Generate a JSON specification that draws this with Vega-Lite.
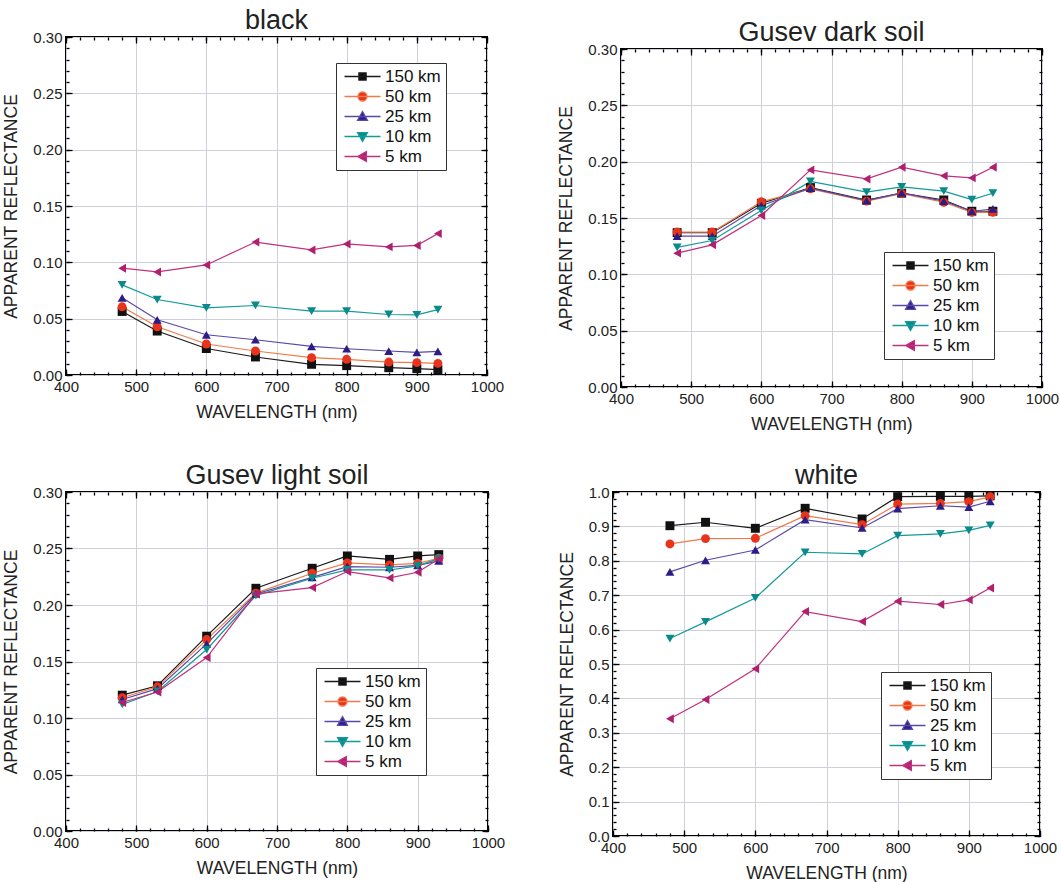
{
"$schema":"https://vega.github.io/schema/vega-lite/v6.json",
"padding":{"left":1,"top":5,"right":2,"bottom":0},
"config":{"font":"Liberation Sans","view":{"stroke":"#000","strokeWidth":2},
"axis":{"labelFont":"Liberation Sans","labelFontSize":15,"labelColor":"#222","titleFont":"Liberation Sans","titleFontSize":17.5,"titleFontWeight":"normal","titleColor":"#222","domain":false,"tickColor":"#000","tickWidth":1.3,"gridColor":"#cfd0da","gridWidth":1},
"title":{"font":"Liberation Sans","fontSize":27,"fontWeight":"normal","color":"#222","anchor":"middle","offset":-5},
"legend":{"title":null,"orient":"none","symbolSize":81,"symbolStrokeWidth":1.3,"symbolOpacity":1,"symbolOffset":13,"labelOffset":14,"labelFontSize":17,"labelFont":"Liberation Sans","labelColor":"#111","strokeColor":"#333","fillColor":"#fff","padding":5,"rowPadding":2}},
"data":{"values":[
{"p":"black","s":"150 km","w":480,"r":0.0564},{"p":"black","s":"150 km","w":530,"r":0.039},{"p":"black","s":"150 km","w":600,"r":0.0235},{"p":"black","s":"150 km","w":670,"r":0.016},{"p":"black","s":"150 km","w":750,"r":0.0095},{"p":"black","s":"150 km","w":800,"r":0.0083},{"p":"black","s":"150 km","w":860,"r":0.0065},{"p":"black","s":"150 km","w":900,"r":0.0056},{"p":"black","s":"150 km","w":930,"r":0.0047},
{"p":"black","s":"50 km","w":480,"r":0.0605},{"p":"black","s":"50 km","w":530,"r":0.0428},{"p":"black","s":"50 km","w":600,"r":0.0275},{"p":"black","s":"50 km","w":670,"r":0.0213},{"p":"black","s":"50 km","w":750,"r":0.0154},{"p":"black","s":"50 km","w":800,"r":0.0139},{"p":"black","s":"50 km","w":860,"r":0.0115},{"p":"black","s":"50 km","w":900,"r":0.011},{"p":"black","s":"50 km","w":930,"r":0.0103},
{"p":"black","s":"25 km","w":480,"r":0.0685},{"p":"black","s":"25 km","w":530,"r":0.049},{"p":"black","s":"25 km","w":600,"r":0.0357},{"p":"black","s":"25 km","w":670,"r":0.0313},{"p":"black","s":"25 km","w":750,"r":0.0254},{"p":"black","s":"25 km","w":800,"r":0.0233},{"p":"black","s":"25 km","w":860,"r":0.0213},{"p":"black","s":"25 km","w":900,"r":0.020},{"p":"black","s":"25 km","w":930,"r":0.021},
{"p":"black","s":"10 km","w":480,"r":0.080},{"p":"black","s":"10 km","w":530,"r":0.067},{"p":"black","s":"10 km","w":600,"r":0.0596},{"p":"black","s":"10 km","w":670,"r":0.0617},{"p":"black","s":"10 km","w":750,"r":0.0567},{"p":"black","s":"10 km","w":800,"r":0.0567},{"p":"black","s":"10 km","w":860,"r":0.0537},{"p":"black","s":"10 km","w":900,"r":0.0534},{"p":"black","s":"10 km","w":930,"r":0.058},
{"p":"black","s":"5 km","w":480,"r":0.0948},{"p":"black","s":"5 km","w":530,"r":0.0915},{"p":"black","s":"5 km","w":600,"r":0.0977},{"p":"black","s":"5 km","w":670,"r":0.118},{"p":"black","s":"5 km","w":750,"r":0.111},{"p":"black","s":"5 km","w":800,"r":0.1163},{"p":"black","s":"5 km","w":860,"r":0.1137},{"p":"black","s":"5 km","w":900,"r":0.115},{"p":"black","s":"5 km","w":930,"r":0.1255},
{"p":"dark","s":"150 km","w":480,"r":0.137},{"p":"dark","s":"150 km","w":530,"r":0.137},{"p":"dark","s":"150 km","w":600,"r":0.163},{"p":"dark","s":"150 km","w":670,"r":0.177},{"p":"dark","s":"150 km","w":750,"r":0.166},{"p":"dark","s":"150 km","w":800,"r":0.172},{"p":"dark","s":"150 km","w":860,"r":0.166},{"p":"dark","s":"150 km","w":900,"r":0.156},{"p":"dark","s":"150 km","w":930,"r":0.156},
{"p":"dark","s":"50 km","w":480,"r":0.1375},{"p":"dark","s":"50 km","w":530,"r":0.1375},{"p":"dark","s":"50 km","w":600,"r":0.1644},{"p":"dark","s":"50 km","w":670,"r":0.1759},{"p":"dark","s":"50 km","w":750,"r":0.165},{"p":"dark","s":"50 km","w":800,"r":0.1717},{"p":"dark","s":"50 km","w":860,"r":0.164},{"p":"dark","s":"50 km","w":900,"r":0.155},{"p":"dark","s":"50 km","w":930,"r":0.155},
{"p":"dark","s":"25 km","w":480,"r":0.1339},{"p":"dark","s":"25 km","w":530,"r":0.1339},{"p":"dark","s":"25 km","w":600,"r":0.161},{"p":"dark","s":"25 km","w":670,"r":0.1765},{"p":"dark","s":"25 km","w":750,"r":0.1655},{"p":"dark","s":"25 km","w":800,"r":0.1723},{"p":"dark","s":"25 km","w":860,"r":0.165},{"p":"dark","s":"25 km","w":900,"r":0.156},{"p":"dark","s":"25 km","w":930,"r":0.158},
{"p":"dark","s":"10 km","w":480,"r":0.124},{"p":"dark","s":"10 km","w":530,"r":0.130},{"p":"dark","s":"10 km","w":600,"r":0.1567},{"p":"dark","s":"10 km","w":670,"r":0.1824},{"p":"dark","s":"10 km","w":750,"r":0.173},{"p":"dark","s":"10 km","w":800,"r":0.1777},{"p":"dark","s":"10 km","w":860,"r":0.1738},{"p":"dark","s":"10 km","w":900,"r":0.1664},{"p":"dark","s":"10 km","w":930,"r":0.172},
{"p":"dark","s":"5 km","w":480,"r":0.1188},{"p":"dark","s":"5 km","w":530,"r":0.1262},{"p":"dark","s":"5 km","w":600,"r":0.1522},{"p":"dark","s":"5 km","w":670,"r":0.1927},{"p":"dark","s":"5 km","w":750,"r":0.1847},{"p":"dark","s":"5 km","w":800,"r":0.1951},{"p":"dark","s":"5 km","w":860,"r":0.1874},{"p":"dark","s":"5 km","w":900,"r":0.1856},{"p":"dark","s":"5 km","w":930,"r":0.1951},
{"p":"light","s":"150 km","w":480,"r":0.1202},{"p":"light","s":"150 km","w":530,"r":0.1285},{"p":"light","s":"150 km","w":600,"r":0.1724},{"p":"light","s":"150 km","w":670,"r":0.2148},{"p":"light","s":"150 km","w":750,"r":0.2325},{"p":"light","s":"150 km","w":800,"r":0.2434},{"p":"light","s":"150 km","w":860,"r":0.2404},{"p":"light","s":"150 km","w":900,"r":0.2434},{"p":"light","s":"150 km","w":930,"r":0.2446},
{"p":"light","s":"50 km","w":480,"r":0.1179},{"p":"light","s":"50 km","w":530,"r":0.1276},{"p":"light","s":"50 km","w":600,"r":0.1694},{"p":"light","s":"50 km","w":670,"r":0.2105},{"p":"light","s":"50 km","w":750,"r":0.2281},{"p":"light","s":"50 km","w":800,"r":0.2372},{"p":"light","s":"50 km","w":860,"r":0.2355},{"p":"light","s":"50 km","w":900,"r":0.2369},{"p":"light","s":"50 km","w":930,"r":0.2414},
{"p":"light","s":"25 km","w":480,"r":0.1164},{"p":"light","s":"25 km","w":530,"r":0.126},{"p":"light","s":"25 km","w":600,"r":0.1656},{"p":"light","s":"25 km","w":670,"r":0.2098},{"p":"light","s":"25 km","w":750,"r":0.2245},{"p":"light","s":"25 km","w":800,"r":0.234},{"p":"light","s":"25 km","w":860,"r":0.2334},{"p":"light","s":"25 km","w":900,"r":0.235},{"p":"light","s":"25 km","w":930,"r":0.239},
{"p":"light","s":"10 km","w":480,"r":0.112},{"p":"light","s":"10 km","w":530,"r":0.1235},{"p":"light","s":"10 km","w":600,"r":0.1606},{"p":"light","s":"10 km","w":670,"r":0.2083},{"p":"light","s":"10 km","w":750,"r":0.2237},{"p":"light","s":"10 km","w":800,"r":0.231},{"p":"light","s":"10 km","w":860,"r":0.231},{"p":"light","s":"10 km","w":900,"r":0.2346},{"p":"light","s":"10 km","w":930,"r":0.241},
{"p":"light","s":"5 km","w":480,"r":0.1137},{"p":"light","s":"5 km","w":530,"r":0.123},{"p":"light","s":"5 km","w":600,"r":0.1535},{"p":"light","s":"5 km","w":670,"r":0.2098},{"p":"light","s":"5 km","w":750,"r":0.2154},{"p":"light","s":"5 km","w":800,"r":0.2296},{"p":"light","s":"5 km","w":860,"r":0.224},{"p":"light","s":"5 km","w":900,"r":0.229},{"p":"light","s":"5 km","w":930,"r":0.2407},
{"p":"white","s":"150 km","w":480,"r":0.902},{"p":"white","s":"150 km","w":530,"r":0.912},{"p":"white","s":"150 km","w":600,"r":0.8945},{"p":"white","s":"150 km","w":670,"r":0.9526},{"p":"white","s":"150 km","w":750,"r":0.9216},{"p":"white","s":"150 km","w":800,"r":0.9865},{"p":"white","s":"150 km","w":860,"r":0.987},{"p":"white","s":"150 km","w":900,"r":0.987},{"p":"white","s":"150 km","w":930,"r":0.989},
{"p":"white","s":"50 km","w":480,"r":0.849},{"p":"white","s":"50 km","w":530,"r":0.8645},{"p":"white","s":"50 km","w":600,"r":0.8654},{"p":"white","s":"50 km","w":670,"r":0.931},{"p":"white","s":"50 km","w":750,"r":0.905},{"p":"white","s":"50 km","w":800,"r":0.965},{"p":"white","s":"50 km","w":860,"r":0.967},{"p":"white","s":"50 km","w":900,"r":0.972},{"p":"white","s":"50 km","w":930,"r":0.986},
{"p":"white","s":"25 km","w":480,"r":0.768},{"p":"white","s":"25 km","w":530,"r":0.8015},{"p":"white","s":"25 km","w":600,"r":0.8315},{"p":"white","s":"25 km","w":670,"r":0.9197},{"p":"white","s":"25 km","w":750,"r":0.8954},{"p":"white","s":"25 km","w":800,"r":0.9516},{"p":"white","s":"25 km","w":860,"r":0.960},{"p":"white","s":"25 km","w":900,"r":0.956},{"p":"white","s":"25 km","w":930,"r":0.973},
{"p":"white","s":"10 km","w":480,"r":0.574},{"p":"white","s":"10 km","w":530,"r":0.6225},{"p":"white","s":"10 km","w":600,"r":0.692},{"p":"white","s":"10 km","w":670,"r":0.8248},{"p":"white","s":"10 km","w":750,"r":0.820},{"p":"white","s":"10 km","w":800,"r":0.873},{"p":"white","s":"10 km","w":860,"r":0.878},{"p":"white","s":"10 km","w":900,"r":0.8887},{"p":"white","s":"10 km","w":930,"r":0.903},
{"p":"white","s":"5 km","w":480,"r":0.3408},{"p":"white","s":"5 km","w":530,"r":0.397},{"p":"white","s":"5 km","w":600,"r":0.486},{"p":"white","s":"5 km","w":670,"r":0.6525},{"p":"white","s":"5 km","w":750,"r":0.6234},{"p":"white","s":"5 km","w":800,"r":0.6825},{"p":"white","s":"5 km","w":860,"r":0.673},{"p":"white","s":"5 km","w":900,"r":0.6864},{"p":"white","s":"5 km","w":930,"r":0.7212}
]},
"vconcat":[
{"hconcat":[
{"vconcat":[
{"width":1,"height":1,"view":{"stroke":null},"mark":{"type":"point","opacity":0},"transform":[{"filter":"datum.p === 'none'"}]},
{"title":{"text":"black"},"width":421,"height":338,"transform":[{"filter":"datum.p === 'black'"}],
"layer":[
{"mark":{"type":"line","strokeWidth":1.2},"encoding":{
"x":{"field":"w","type":"quantitative","scale":{"domain":[400,1000],"nice":false},"axis":{"orient":"bottom","values":[400,500,600,700,800,900,1000],"format":"d","grid":true,"tickSize":-6,"labelPadding":10,"labelFlush":false,"labelOverlap":false,"title":"WAVELENGTH (nm)","titlePadding":9}},
"y":{"field":"r","type":"quantitative","scale":{"domain":[0,0.3],"nice":false},"axis":{"orient":"left","values":[0,0.05,0.1,0.15,0.2,0.25,0.3],"format":".2f","grid":true,"tickSize":-6,"labelPadding":10,"labelFlush":false,"labelOverlap":false,"title":"APPARENT REFLECTANCE","titlePadding":12}},
"stroke":{"field":"s","type":"nominal","scale":{"domain":["150 km","50 km","25 km","10 km","5 km"],"range":["#1a1a1a","#f07a4a","#5a48a8","#139a9a","#c0307e"]},"legend":null}}},
{"mark":{"type":"point","filled":true,"opacity":1,"size":80},"encoding":{
"x":{"field":"w","type":"quantitative","axis":{"orient":"top","values":[400,500,600,700,800,900,1000],"grid":false,"tickSize":-6,"labels":false,"title":null}},
"y":{"field":"r","type":"quantitative","axis":{"orient":"right","values":[0,0.05,0.1,0.15,0.2,0.25,0.3],"grid":false,"tickSize":-6,"labels":false,"title":null}},
"fill":{"field":"s","type":"nominal","scale":{"domain":["150 km","50 km","25 km","10 km","5 km"],"range":["#111111","#e8341c","#2c1c86","#0a8a8a","#b0206e"]},"legend":null},
"shape":{"field":"s","type":"nominal","scale":{"domain":["150 km","50 km","25 km","10 km","5 km"],"range":["square","circle","triangle-up","triangle-down","triangle-left"]},"legend":null}}},
{"mark":{"type":"point","opacity":0},"encoding":{
"x":{"field":"w","type":"quantitative","axis":{"orient":"bottom","tickCount":30,"grid":false,"tickSize":-3,"labels":false,"title":null}},
"y":{"field":"r","type":"quantitative","axis":{"orient":"left","tickCount":30,"grid":false,"tickSize":-3,"labels":false,"title":null}}}},
{"mark":{"type":"point","opacity":0},"encoding":{
"x":{"field":"w","type":"quantitative","axis":{"orient":"top","tickCount":30,"grid":false,"tickSize":-3,"labels":false,"title":null}},
"y":{"field":"r","type":"quantitative","axis":{"orient":"right","tickCount":30,"grid":false,"tickSize":-3,"labels":false,"title":null}}}},
{"transform":[{"filter":"false"}],"mark":{"type":"point","filled":true},"encoding":{
"fill":{"field":"s","type":"nominal","scale":{"domain":["150 km","50 km","25 km","10 km","5 km"],"range":["#111111","#e8341c","#2c1c86","#0a8a8a","#b0206e"]},"legend":{"legendX":270,"legendY":26}},
"stroke":{"field":"s","type":"nominal","scale":{"domain":["150 km","50 km","25 km","10 km","5 km"],"range":["#1a1a1a","#f07a4a","#5a48a8","#139a9a","#c0307e"]},"legend":{"legendX":270,"legendY":26}},
"shape":{"field":"s","type":"nominal","scale":{"domain":["150 km","50 km","25 km","10 km","5 km"],"range":["M-4,0H4M-0.8,-0.8H0.8V0.8H-0.8Z","M-4,0H4M-1,0A1,1,0,1,0,1,0A1,1,0,1,0,-1,0Z","M-4,0H4M0,-1.1L1.1,0.85H-1.1Z","M-4,0H4M0,1.1L1.1,-0.85H-1.1Z","M-4,0H4M-1.1,0L0.85,-1.1V1.1Z"]},"legend":{"legendX":270,"legendY":26}}}}
],
"resolve":{"axis":{"x":"independent","y":"independent"},"scale":{"shape":"independent","fill":"independent","stroke":"independent"}}}
],"spacing":0},
{"vconcat":[
{"width":1,"height":13,"view":{"stroke":null},"mark":{"type":"point","opacity":0},"transform":[{"filter":"datum.p === 'none'"}]},
{"title":{"text":"Gusev dark soil"},"width":421,"height":338,"transform":[{"filter":"datum.p === 'dark'"}],
"layer":[
{"mark":{"type":"line","strokeWidth":1.2},"encoding":{
"x":{"field":"w","type":"quantitative","scale":{"domain":[400,1000],"nice":false},"axis":{"orient":"bottom","values":[400,500,600,700,800,900,1000],"format":"d","grid":true,"tickSize":-6,"labelPadding":10,"labelFlush":false,"labelOverlap":false,"title":"WAVELENGTH (nm)","titlePadding":9}},
"y":{"field":"r","type":"quantitative","scale":{"domain":[0,0.3],"nice":false},"axis":{"orient":"left","values":[0,0.05,0.1,0.15,0.2,0.25,0.3],"format":".2f","grid":true,"tickSize":-6,"labelPadding":10,"labelFlush":false,"labelOverlap":false,"title":"APPARENT REFLECTANCE","titlePadding":12}},
"stroke":{"field":"s","type":"nominal","scale":{"domain":["150 km","50 km","25 km","10 km","5 km"],"range":["#1a1a1a","#f07a4a","#5a48a8","#139a9a","#c0307e"]},"legend":null}}},
{"mark":{"type":"point","filled":true,"opacity":1,"size":80},"encoding":{
"x":{"field":"w","type":"quantitative","axis":{"orient":"top","values":[400,500,600,700,800,900,1000],"grid":false,"tickSize":-6,"labels":false,"title":null}},
"y":{"field":"r","type":"quantitative","axis":{"orient":"right","values":[0,0.05,0.1,0.15,0.2,0.25,0.3],"grid":false,"tickSize":-6,"labels":false,"title":null}},
"fill":{"field":"s","type":"nominal","scale":{"domain":["150 km","50 km","25 km","10 km","5 km"],"range":["#111111","#e8341c","#2c1c86","#0a8a8a","#b0206e"]},"legend":null},
"shape":{"field":"s","type":"nominal","scale":{"domain":["150 km","50 km","25 km","10 km","5 km"],"range":["square","circle","triangle-up","triangle-down","triangle-left"]},"legend":null}}},
{"mark":{"type":"point","opacity":0},"encoding":{
"x":{"field":"w","type":"quantitative","axis":{"orient":"bottom","tickCount":30,"grid":false,"tickSize":-3,"labels":false,"title":null}},
"y":{"field":"r","type":"quantitative","axis":{"orient":"left","tickCount":30,"grid":false,"tickSize":-3,"labels":false,"title":null}}}},
{"mark":{"type":"point","opacity":0},"encoding":{
"x":{"field":"w","type":"quantitative","axis":{"orient":"top","tickCount":30,"grid":false,"tickSize":-3,"labels":false,"title":null}},
"y":{"field":"r","type":"quantitative","axis":{"orient":"right","tickCount":30,"grid":false,"tickSize":-3,"labels":false,"title":null}}}},
{"transform":[{"filter":"false"}],"mark":{"type":"point","filled":true},"encoding":{
"fill":{"field":"s","type":"nominal","scale":{"domain":["150 km","50 km","25 km","10 km","5 km"],"range":["#111111","#e8341c","#2c1c86","#0a8a8a","#b0206e"]},"legend":{"legendX":263,"legendY":203}},
"stroke":{"field":"s","type":"nominal","scale":{"domain":["150 km","50 km","25 km","10 km","5 km"],"range":["#1a1a1a","#f07a4a","#5a48a8","#139a9a","#c0307e"]},"legend":{"legendX":263,"legendY":203}},
"shape":{"field":"s","type":"nominal","scale":{"domain":["150 km","50 km","25 km","10 km","5 km"],"range":["M-4,0H4M-0.8,-0.8H0.8V0.8H-0.8Z","M-4,0H4M-1,0A1,1,0,1,0,1,0A1,1,0,1,0,-1,0Z","M-4,0H4M0,-1.1L1.1,0.85H-1.1Z","M-4,0H4M0,1.1L1.1,-0.85H-1.1Z","M-4,0H4M-1.1,0L0.85,-1.1V1.1Z"]},"legend":{"legendX":263,"legendY":203}}}}
],
"resolve":{"axis":{"x":"independent","y":"independent"},"scale":{"shape":"independent","fill":"independent","stroke":"independent"}}}
],"spacing":0}
],"spacing":51},
{"hconcat":[
{"title":{"text":"Gusev light soil"},"width":422,"height":339,"transform":[{"filter":"datum.p === 'light'"}],
"layer":[
{"mark":{"type":"line","strokeWidth":1.2},"encoding":{
"x":{"field":"w","type":"quantitative","scale":{"domain":[400,1000],"nice":false},"axis":{"orient":"bottom","values":[400,500,600,700,800,900,1000],"format":"d","grid":true,"tickSize":-6,"labelPadding":10,"labelFlush":false,"labelOverlap":false,"title":"WAVELENGTH (nm)","titlePadding":9}},
"y":{"field":"r","type":"quantitative","scale":{"domain":[0,0.3],"nice":false},"axis":{"orient":"left","values":[0,0.05,0.1,0.15,0.2,0.25,0.3],"format":".2f","grid":true,"tickSize":-6,"labelPadding":10,"labelFlush":false,"labelOverlap":false,"title":"APPARENT REFLECTANCE","titlePadding":12}},
"stroke":{"field":"s","type":"nominal","scale":{"domain":["150 km","50 km","25 km","10 km","5 km"],"range":["#1a1a1a","#f07a4a","#5a48a8","#139a9a","#c0307e"]},"legend":null}}},
{"mark":{"type":"point","filled":true,"opacity":1,"size":80},"encoding":{
"x":{"field":"w","type":"quantitative","axis":{"orient":"top","values":[400,500,600,700,800,900,1000],"grid":false,"tickSize":-6,"labels":false,"title":null}},
"y":{"field":"r","type":"quantitative","axis":{"orient":"right","values":[0,0.05,0.1,0.15,0.2,0.25,0.3],"grid":false,"tickSize":-6,"labels":false,"title":null}},
"fill":{"field":"s","type":"nominal","scale":{"domain":["150 km","50 km","25 km","10 km","5 km"],"range":["#111111","#e8341c","#2c1c86","#0a8a8a","#b0206e"]},"legend":null},
"shape":{"field":"s","type":"nominal","scale":{"domain":["150 km","50 km","25 km","10 km","5 km"],"range":["square","circle","triangle-up","triangle-down","triangle-left"]},"legend":null}}},
{"mark":{"type":"point","opacity":0},"encoding":{
"x":{"field":"w","type":"quantitative","axis":{"orient":"bottom","tickCount":30,"grid":false,"tickSize":-3,"labels":false,"title":null}},
"y":{"field":"r","type":"quantitative","axis":{"orient":"left","tickCount":30,"grid":false,"tickSize":-3,"labels":false,"title":null}}}},
{"mark":{"type":"point","opacity":0},"encoding":{
"x":{"field":"w","type":"quantitative","axis":{"orient":"top","tickCount":30,"grid":false,"tickSize":-3,"labels":false,"title":null}},
"y":{"field":"r","type":"quantitative","axis":{"orient":"right","tickCount":30,"grid":false,"tickSize":-3,"labels":false,"title":null}}}},
{"transform":[{"filter":"false"}],"mark":{"type":"point","filled":true},"encoding":{
"fill":{"field":"s","type":"nominal","scale":{"domain":["150 km","50 km","25 km","10 km","5 km"],"range":["#111111","#e8341c","#2c1c86","#0a8a8a","#b0206e"]},"legend":{"legendX":250,"legendY":176}},
"stroke":{"field":"s","type":"nominal","scale":{"domain":["150 km","50 km","25 km","10 km","5 km"],"range":["#1a1a1a","#f07a4a","#5a48a8","#139a9a","#c0307e"]},"legend":{"legendX":250,"legendY":176}},
"shape":{"field":"s","type":"nominal","scale":{"domain":["150 km","50 km","25 km","10 km","5 km"],"range":["M-4,0H4M-0.8,-0.8H0.8V0.8H-0.8Z","M-4,0H4M-1,0A1,1,0,1,0,1,0A1,1,0,1,0,-1,0Z","M-4,0H4M0,-1.1L1.1,0.85H-1.1Z","M-4,0H4M0,1.1L1.1,-0.85H-1.1Z","M-4,0H4M-1.1,0L0.85,-1.1V1.1Z"]},"legend":{"legendX":250,"legendY":176}}}}
],
"resolve":{"axis":{"x":"independent","y":"independent"},"scale":{"shape":"independent","fill":"independent","stroke":"independent"}}},
{"title":{"text":"white"},"width":427,"height":344,"transform":[{"filter":"datum.p === 'white'"}],
"layer":[
{"mark":{"type":"line","strokeWidth":1.2},"encoding":{
"x":{"field":"w","type":"quantitative","scale":{"domain":[400,1000],"nice":false},"axis":{"orient":"bottom","values":[400,500,600,700,800,900,1000],"format":"d","grid":true,"tickSize":-6,"labelPadding":10,"labelFlush":false,"labelOverlap":false,"title":"WAVELENGTH (nm)","titlePadding":9}},
"y":{"field":"r","type":"quantitative","scale":{"domain":[0,1],"nice":false},"axis":{"orient":"left","values":[0,0.1,0.2,0.3,0.4,0.5,0.6,0.7,0.8,0.9,1],"format":".1f","grid":true,"tickSize":-6,"labelPadding":10,"labelFlush":false,"labelOverlap":false,"title":"APPARENT REFLECTANCE","titlePadding":12}},
"stroke":{"field":"s","type":"nominal","scale":{"domain":["150 km","50 km","25 km","10 km","5 km"],"range":["#1a1a1a","#f07a4a","#5a48a8","#139a9a","#c0307e"]},"legend":null}}},
{"mark":{"type":"point","filled":true,"opacity":1,"size":80},"encoding":{
"x":{"field":"w","type":"quantitative","axis":{"orient":"top","values":[400,500,600,700,800,900,1000],"grid":false,"tickSize":-6,"labels":false,"title":null}},
"y":{"field":"r","type":"quantitative","axis":{"orient":"right","values":[0,0.1,0.2,0.3,0.4,0.5,0.6,0.7,0.8,0.9,1],"grid":false,"tickSize":-6,"labels":false,"title":null}},
"fill":{"field":"s","type":"nominal","scale":{"domain":["150 km","50 km","25 km","10 km","5 km"],"range":["#111111","#e8341c","#2c1c86","#0a8a8a","#b0206e"]},"legend":null},
"shape":{"field":"s","type":"nominal","scale":{"domain":["150 km","50 km","25 km","10 km","5 km"],"range":["square","circle","triangle-up","triangle-down","triangle-left"]},"legend":null}}},
{"mark":{"type":"point","opacity":0},"encoding":{
"x":{"field":"w","type":"quantitative","axis":{"orient":"bottom","tickCount":30,"grid":false,"tickSize":-3,"labels":false,"title":null}},
"y":{"field":"r","type":"quantitative","axis":{"orient":"left","tickCount":50,"grid":false,"tickSize":-3,"labels":false,"title":null}}}},
{"mark":{"type":"point","opacity":0},"encoding":{
"x":{"field":"w","type":"quantitative","axis":{"orient":"top","tickCount":30,"grid":false,"tickSize":-3,"labels":false,"title":null}},
"y":{"field":"r","type":"quantitative","axis":{"orient":"right","tickCount":50,"grid":false,"tickSize":-3,"labels":false,"title":null}}}},
{"transform":[{"filter":"false"}],"mark":{"type":"point","filled":true},"encoding":{
"fill":{"field":"s","type":"nominal","scale":{"domain":["150 km","50 km","25 km","10 km","5 km"],"range":["#111111","#e8341c","#2c1c86","#0a8a8a","#b0206e"]},"legend":{"legendX":268,"legendY":180}},
"stroke":{"field":"s","type":"nominal","scale":{"domain":["150 km","50 km","25 km","10 km","5 km"],"range":["#1a1a1a","#f07a4a","#5a48a8","#139a9a","#c0307e"]},"legend":{"legendX":268,"legendY":180}},
"shape":{"field":"s","type":"nominal","scale":{"domain":["150 km","50 km","25 km","10 km","5 km"],"range":["M-4,0H4M-0.8,-0.8H0.8V0.8H-0.8Z","M-4,0H4M-1,0A1,1,0,1,0,1,0A1,1,0,1,0,-1,0Z","M-4,0H4M0,-1.1L1.1,0.85H-1.1Z","M-4,0H4M0,1.1L1.1,-0.85H-1.1Z","M-4,0H4M-1.1,0L0.85,-1.1V1.1Z"]},"legend":{"legendX":268,"legendY":180}}}}
],
"resolve":{"axis":{"x":"independent","y":"independent"},"scale":{"shape":"independent","fill":"independent","stroke":"independent"}}}
],"spacing":51}
],"spacing":27}
